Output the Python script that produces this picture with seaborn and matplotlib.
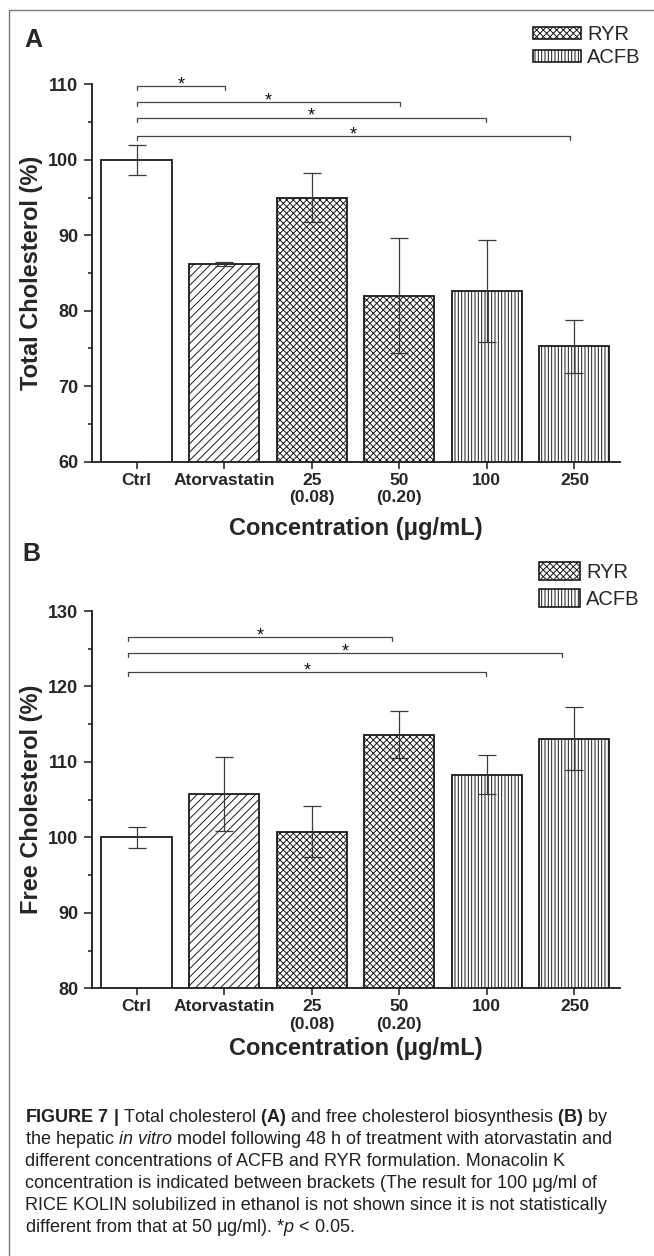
import numpy as np
import pandas as pd
import matplotlib
matplotlib.use("Agg")
import matplotlib.pyplot as plt
import seaborn as sns
from matplotlib.patches import Patch
from matplotlib.lines import Line2D
from matplotlib.ticker import MultipleLocator

# ---------------- data ----------------
categories = ["Ctrl", "Atorvastatin", "25\n(0.08)", "50\n(0.20)", "100", "250"]
groups = ["Control", "Atorvastatin", "RYR", "RYR", "ACFB", "ACFB"]
total_chol = [100.0, 86.2, 95.0, 82.0, 82.6, 75.3]
total_err = [2.0, 0.25, 3.2, 7.6, 6.8, 3.5]
free_chol = [100.0, 105.8, 100.75, 113.6, 108.3, 113.1]
free_err = [1.35, 4.9, 3.4, 3.1, 2.6, 4.2]
sig_A_pairs = [(0, 1), (0, 3), (0, 4), (0, 5)]
sig_A_y = [109.75, 107.7, 105.6, 103.2]
sig_B_pairs = [(0, 3), (0, 5), (0, 4)]
sig_B_y = [126.6, 124.4, 121.9]
legend_labels = ["RYR", "ACFB"]
caption_lines = [
    r"$\mathbf{FIGURE\ 7\ |}$ Total cholesterol $\mathbf{(A)}$ and free cholesterol biosynthesis $\mathbf{(B)}$ by",
    r"the hepatic $\mathit{in\ vitro}$ model following 48 h of treatment with atorvastatin and",
    "different concentrations of ACFB and RYR formulation. Monacolin K",
    "concentration is indicated between brackets (The result for 100 μg/ml of",
    "RICE KOLIN solubilized in ethanol is not shown since it is not statistically",
    r"different from that at 50 μg/ml). *$\mathit{p}$ < 0.05.",
]

HATCH = {"Control": "", "Atorvastatin": "////", "RYR": "xxxxx", "ACFB": "|||||"}
EDGE = "#1a1a1a"

sns.set_style("ticks")
plt.rcParams["font.family"] = ["Liberation Sans", "DejaVu Sans"]
plt.rcParams["mathtext.fontset"] = "custom"
plt.rcParams["mathtext.rm"] = "Liberation Sans"
plt.rcParams["mathtext.bf"] = "Liberation Sans:bold"
plt.rcParams["mathtext.it"] = "Liberation Sans:italic"
plt.rcParams["hatch.linewidth"] = 0.7

W, H = 654, 1256
fig = plt.figure(figsize=(W / 100, H / 100), dpi=100)


def fx(px):
    return px / W


def fy(py):
    return 1 - py / H


def panel(ax, values, errs, ylim, ylabel, pairs, ys, start_off, end_off,
          leg_anchor, leg_hl, leg_hh, leg_ls, xlab_y):
    df = pd.DataFrame({"Concentration": categories, "Value": values})
    sns.barplot(data=df, x="Concentration", y="Value", order=categories,
                color="white", saturation=1, width=0.8, edgecolor=EDGE,
                linewidth=1.3, errorbar=None, ax=ax, zorder=2)
    for p, g in zip(ax.patches, groups):
        p.set_hatch(HATCH[g])
    ax.errorbar(np.arange(len(categories)), values, yerr=errs, fmt="none",
                ecolor="#3a3a3a", elinewidth=0.9, capsize=6.5, capthick=0.9,
                zorder=3)
    ax.set_ylim(*ylim)
    ax.set_xlim(-0.505, 5.52)
    ax.yaxis.set_major_locator(MultipleLocator(10))
    ax.yaxis.set_minor_locator(MultipleLocator(5))
    sns.despine(ax=ax)
    for s in ("left", "bottom"):
        ax.spines[s].set_linewidth(1.3)
        ax.spines[s].set_color(EDGE)
    ax.tick_params(axis="y", which="major", length=6, width=1.1, pad=4,
                   labelsize=13, color=EDGE)
    ax.tick_params(axis="y", which="minor", length=3, width=1.1, color=EDGE)
    ax.tick_params(axis="x", which="major", length=5, width=1.1, pad=3,
                   labelsize=12.5, color=EDGE)
    for lab in ax.get_yticklabels() + ax.get_xticklabels():
        lab.set_fontweight("bold")
    ax.set_ylabel(ylabel, fontsize=17, fontweight="bold")
    ax.yaxis.set_label_coords(-0.094, 0.5)
    ax.set_xlabel("Concentration (μg/mL)", fontsize=17, fontweight="bold",
                  va="top")
    ax.xaxis.set_label_coords(0.5, xlab_y)
    # significance brackets
    yr = ylim[1] - ylim[0]
    tick = yr * 0.011
    for (i, j), y, eo in zip(pairs, ys, end_off):
        x1, x2 = i + start_off, j + eo
        ax.plot([x1, x1, x2, x2], [y - tick, y, y, y - tick], color="#444444",
                lw=0.9, clip_on=False, zorder=4)
        ax.annotate("*", xy=((x1 + x2) / 2, y), xytext=(0, -2.5),
                    textcoords="offset points", ha="center", va="baseline",
                    fontsize=13, color="#111111", annotation_clip=False)
    handles = [Patch(facecolor="white", edgecolor=EDGE, hatch=HATCH["RYR"],
                     linewidth=1.2, label=legend_labels[0]),
               Patch(facecolor="white", edgecolor=EDGE, hatch=HATCH["ACFB"],
                     linewidth=1.2, label=legend_labels[1])]
    ax.legend(handles=handles, loc="upper left", bbox_to_anchor=leg_anchor,
              bbox_transform=fig.transFigure, frameon=False, fontsize=14.5,
              handlelength=leg_hl, handleheight=leg_hh, handletextpad=0.3,
              labelspacing=leg_ls, borderpad=0, borderaxespad=0)


axA = fig.add_axes([fx(92.3), fy(461.7), fx(620 - 92.3), (461.7 - 84.3) / H])
axB = fig.add_axes([fx(92.3), fy(988.3), fx(620 - 92.3), (988.3 - 611) / H])

panel(axA, total_chol, total_err, (60, 110), "Total Cholesterol (%)",
      sig_A_pairs, sig_A_y, 0.0, [0.01, 0.01, -0.01, -0.05],
      (fx(533), fy(25)), 2.4, 0.6, 0.2, -0.146)
panel(axB, free_chol, free_err, (80, 130), "Free Cholesterol (%)",
      sig_B_pairs, sig_B_y, -0.1, [-0.08, -0.14, -0.01],
      (fx(539), fy(562)), 2.05, 1.0, 0.35, -0.128)

fig.text(fx(24), fy(47), "A", fontsize=18, fontweight="bold", va="baseline")
fig.text(fx(22), fy(561), "B", fontsize=18, fontweight="bold", va="baseline")

for k, line in enumerate(caption_lines):
    fig.text(fx(25), fy(1122 + 22 * k), line, fontsize=13, color="#231f20",
             va="baseline", ha="left")

# figure frame
fig.add_artist(Line2D([fx(9), 1.0], [fy(10), fy(10)], color="#777777", lw=1.0))
fig.add_artist(Line2D([fx(9), fx(9)], [fy(10), 0.0], color="#777777", lw=1.0))

fig.savefig("out.png", dpi=100)
